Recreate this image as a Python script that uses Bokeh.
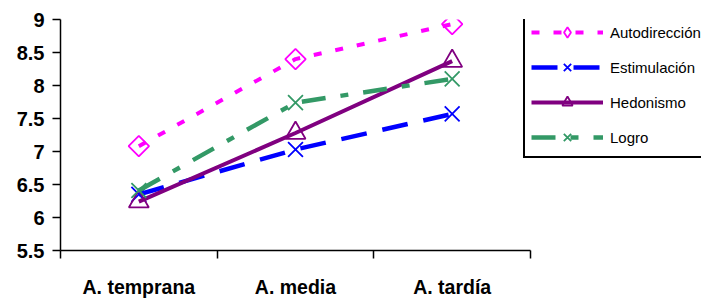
import math
from bokeh.plotting import figure
from bokeh.models import (ColumnDataSource, FixedTicker, Legend, LegendItem,
                          CustomJSTickFormatter)
from bokeh.embed import file_html
from bokeh.resources import INLINE

# ---- data ----
categories = ["A. temprana", "A. media", "A. tardía"]
x_pos = [0.5, 1.5, 2.5]
autodireccion = [7.08, 8.40, 8.93]
estimulacion = [6.35, 7.03, 7.57]
hedonismo = [6.24, 7.28, 8.37]
logro = [6.41, 7.74, 8.10]
y_ticks = [5.5, 6.0, 6.5, 7.0, 7.5, 8.0, 8.5, 9.0]
cat_bounds = [0, 1, 2, 3]

# frame spans to the right edge so the legend box can overlap; the category
# axis occupies 470 of the 641 frame pixels
x_end = 3 * 641 / 470

p = figure(width=701, height=300, output_backend="svg", toolbar_location=None,
           x_range=(0, x_end), y_range=(5.5, 9),
           min_border_left=60, min_border_right=0, min_border_top=19,
           min_border_bottom=49)
p.outline_line_color = None
p.xgrid.visible = False
p.ygrid.visible = False
p.background_fill_color = "white"

FONT = "Liberation Sans"

# name, values, colour, dash, width, marker, size, angle, legend marker
series = [
    ("Autodirección", autodireccion, "#FF00FF", "8 14", 4, "square", 14.5, math.pi / 4, "diamond"),
    ("Estimulación", estimulacion, "#0000FF", "26 16", 4.5, "x", 21, 0.0, None),
    ("Hedonismo", hedonismo, "#800080", "solid", 4, "triangle", 20, 0.0, None),
    ("Logro", logro, "#339966", "24 15 8 15", 4.5, "x", 21, 0.0, None),
]

items = []
for name, vals, color, dash, lw, marker, size, ang, leg_marker in series:
    src = ColumnDataSource(dict(x=x_pos, y=vals))
    ln = p.line("x", "y", source=src, line_color=color, line_width=lw,
                line_dash=dash)
    sc = p.scatter("x", "y", source=src, marker=marker, size=size, angle=ang,
                   line_color=color, fill_color=None, line_width=1.8)
    leg_sc = sc
    if leg_marker is not None:
        # legend-only marker shape (rotated squares are not rotated in legends)
        leg_sc = p.scatter("x", "y", source=src, marker=leg_marker, size=size,
                           line_color=color, fill_color=None, line_width=1.8,
                           visible=False)
    items.append(LegendItem(label=name, renderers=[ln, leg_sc]))

# x axis
xa = p.xaxis[0]
xa.bounds = (cat_bounds[0], cat_bounds[-1])
xa.ticker = FixedTicker(ticks=x_pos, minor_ticks=cat_bounds)
xa.major_label_overrides = {x: c for x, c in zip(x_pos, categories)}
xa.major_tick_line_color = None
xa.major_tick_out = 0
xa.major_tick_in = 0
xa.minor_tick_line_color = "black"
xa.minor_tick_line_width = 1.5
xa.minor_tick_out = 8
xa.minor_tick_in = 0
xa.axis_line_color = "black"
xa.axis_line_width = 1.5
xa.major_label_standoff = 17
xa.major_label_text_font = FONT
xa.major_label_text_font_style = "bold"
xa.major_label_text_font_size = "19.5px"
xa.major_label_text_color = "black"

# y axis
ya = p.yaxis[0]
ya.ticker = FixedTicker(ticks=y_ticks, minor_ticks=[])
ya.formatter = CustomJSTickFormatter(
    code="return (tick % 1 === 0) ? tick.toFixed(0) : tick.toFixed(1);")
ya.major_tick_out = 8
ya.major_tick_in = 0
ya.major_tick_line_color = "black"
ya.major_tick_line_width = 1.5
ya.minor_tick_line_color = None
ya.axis_line_color = "black"
ya.axis_line_width = 1.5
ya.major_label_standoff = 8
ya.major_label_text_font = FONT
ya.major_label_text_font_style = "bold"
ya.major_label_text_font_size = "20px"
ya.major_label_text_color = "black"

legend = Legend(items=items, location=(463, 92))
legend.border_line_color = "black"
legend.border_line_alpha = 1.0
legend.border_line_width = 2
legend.background_fill_color = "white"
legend.background_fill_alpha = 1
legend.padding = 6
legend.spacing = 9
legend.margin = 0
legend.glyph_width = 72
legend.glyph_height = 26
legend.label_height = 20
legend.label_standoff = 7
legend.label_text_font = FONT
legend.label_text_font_size = "15px"
legend.label_text_color = "black"
p.add_layout(legend)

open("out.html", "w").write(file_html(p, INLINE))
